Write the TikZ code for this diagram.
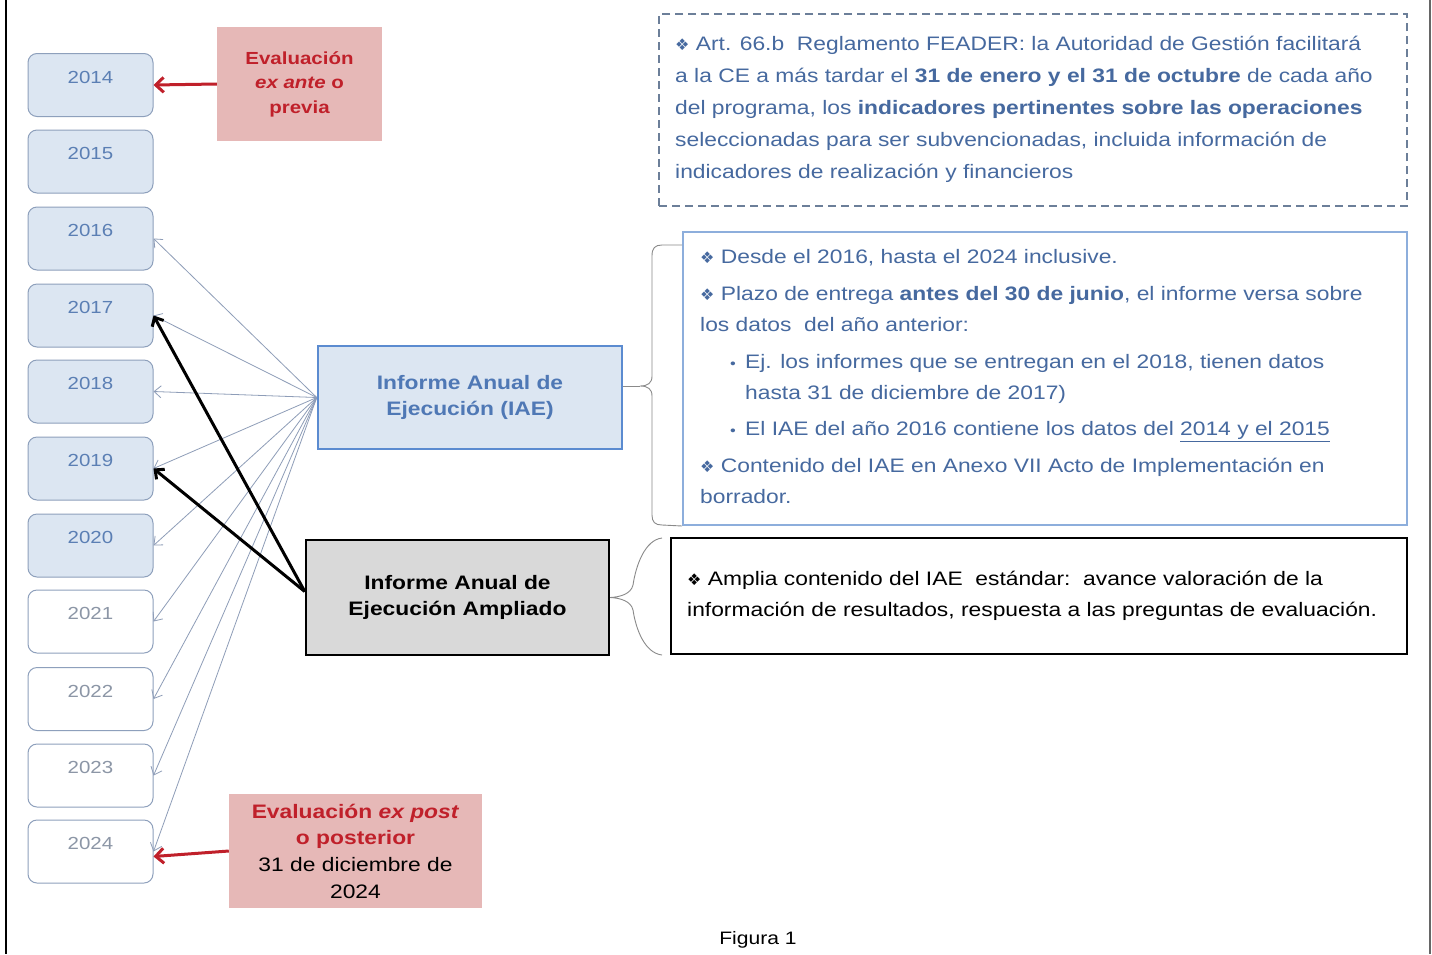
\documentclass[tikz,border=0pt]{standalone}
\usepackage{fontspec}
\setmainfont{Liberation Sans}[FakeStretch=1.17]
\newfontfamily\dingfont{DejaVu Sans}
\usetikzlibrary{arrows.meta}
\definecolor{yearfill}{HTML}{DCE6F2}
\definecolor{yearline}{HTML}{8EA0BC}
\definecolor{yeartxt}{HTML}{5B7FB4}
\definecolor{yeartxtb}{HTML}{8C96A6}
\definecolor{bluetxt}{HTML}{46699F}
\definecolor{iaeline}{HTML}{5B8BD0}
\definecolor{iaetxt}{HTML}{4F78B5}
\definecolor{boxline}{HTML}{8DAEDC}
\definecolor{dashline}{HTML}{6C7F99}
\definecolor{pinkfill}{HTML}{E6B8B7}
\definecolor{evred}{HTML}{C0202A}
\definecolor{thinarr}{HTML}{8E9DB8}
\definecolor{greyfill}{HTML}{D9D9D9}
\definecolor{bracecol}{HTML}{8A8A8A}
\newcommand{\dia}{{\dingfont\fontsize{16}{16}\selectfont ❖}}
\newcommand{\subbul}{\makebox[15pt][l]{\fontsize{14}{14}\selectfont •}}
\begin{document}
\begin{tikzpicture}[x=1pt,y=-1pt,
  yearbox/.style={rectangle,rounded corners=9pt,draw=yearline,line width=1pt,
    minimum width=125pt,minimum height=63pt,inner xsep=0pt,inner ysep=4pt,
    text height=25.5pt,text depth=29.5pt,font=\fontsize{17.5}{20}\selectfont},
  yearA/.style={yearbox,fill=yearfill,text=yeartxt},
  yearB/.style={yearbox,fill=white,text=yeartxtb},
  evalbox/.style={rectangle,fill=pinkfill,align=center,inner sep=0pt},
  thinarrow/.style={draw=thinarr,line width=0.8pt,-{Straight Barb[length=7pt,width=12pt]}},
  thickarrow/.style={draw=black,line width=3pt,-{Straight Barb[length=7pt,width=13pt]}},
  redarrow/.style={draw=evred,line width=3pt,-{Straight Barb[length=8pt,width=15pt]}},
  bodytext/.style={align=left,inner sep=0pt,anchor=north west},
  bracestyle/.style={draw=bracecol,line width=0.9pt}]
\useasboundingbox (0,0) rectangle (1432,954);
\fill[white] (0,0) rectangle (1432,954);
% frame
\draw[black,line width=2.5pt] (6,0) -- (6,954);
\draw[black!60,line width=2pt] (1430,0) -- (1430,954);
% years
\foreach \yr/\cy in {2014/85,2015/161.5,2016/238.5,2017/315.5,2018/391.5,2019/468.5,2020/545.5}
  \node[yearA] (y\yr) at (90.5,\cy) {\yr};
\foreach \yr/\cy in {2021/621.5,2022/699,2023/775.5,2024/851.5}
  \node[yearB] (y\yr) at (90.5,\cy) {\yr};
% evaluation boxes
\node[evalbox,minimum width=165pt,minimum height=114pt,text=evred,
  font=\bfseries\fontsize{17.5}{24.5}\selectfont] (exante) at (299.5,84)
  {Evaluación\\\textit{ex ante} o\\previa};
\node[evalbox,minimum width=253pt,minimum height=114pt,
  font=\fontsize{19.5}{26.7}\selectfont] (expost) at (355.5,851)
  {\textcolor{evred}{\bfseries Evaluación \textit{ex post}}\\
   \textcolor{evred}{\bfseries o posterior}\\
   31 de diciembre de\\2024};
% IAE boxes
\node[rectangle,draw=iaeline,line width=2.5pt,fill=yearfill,minimum width=304pt,
  minimum height=103pt,align=center,text=iaetxt,
  font=\bfseries\fontsize{19.5}{26}\selectfont] (iae) at (470,397.5)
  {Informe Anual de\\Ejecución (IAE)};
\node[rectangle,draw=black,line width=2.5pt,fill=greyfill,minimum width=303pt,
  minimum height=115pt,align=center,
  font=\bfseries\fontsize{19.5}{26}\selectfont] (amp) at (457.5,597.5)
  {Informe Anual de\\Ejecución Ampliado};
% right boxes
\node[rectangle,draw=dashline,dash pattern=on 8pt off 5pt,line width=1.5pt,minimum width=748pt,
  minimum height=192pt] (art) at (1033,110) {};
\node[rectangle,draw=boxline,line width=2pt,fill=white,minimum width=724pt,
  minimum height=293pt] (iaetext) at (1045,378.5) {};
\node[rectangle,draw=black,line width=2pt,fill=white,minimum width=736pt,
  minimum height=116pt] (amptext) at (1039,596) {};
\node[bodytext,text=bluetxt,font=\fontsize{19.5}{32}\selectfont] (arttxt) at (675,36)
  {\dia\ Art. 66.b\ \ Reglamento FEADER: la Autoridad de Gestión facilitará\\
   a la CE a más tardar el \textbf{31 de enero y el 31 de octubre} de cada año\\
   del programa, los \textbf{indicadores pertinentes sobre las operaciones}\\
   seleccionadas para ser subvencionadas, incluida información de\\
   indicadores de realización y financieros};
\node[bodytext,text=bluetxt,font=\fontsize{19.5}{31}\selectfont] (iaetxt) at (700,249)
  {\dia\ Desde el 2016, hasta el 2024 inclusive.\\[6pt]
   \dia\ Plazo de entrega \textbf{antes del 30 de junio}, el informe versa sobre\\
   los datos\ \ del año anterior:\\[6pt]
   \hspace*{30pt}\subbul Ej. los informes que se entregan en el 2018, tienen datos\\
   \hspace*{45pt}hasta 31 de diciembre de 2017)\\[5pt]
   \hspace*{30pt}\subbul El IAE del año 2016 contiene los datos del \underline{2014 y el 2015}\\[6pt]
   \dia\ Contenido del IAE en Anexo VII Acto de Implementación en\\
   borrador.};
\node[bodytext,text=black,font=\fontsize{19.5}{31}\selectfont] (amptxt) at (687,571)
  {\dia\ Amplia contenido del IAE\ \ estándar:\ \ avance valoración de la\\
   información de resultados, respuesta a las preguntas de evaluación.};
% braces
\coordinate (tip1) at (640,386);
\draw[bracestyle] ([yshift=11.5pt]iae.east) -- (tip1);
\draw[bracestyle] (iaetext.north west |- 0,245) -- (662,245) .. controls (655,245) and (652,248) .. (652,256)
  -- (652,376) .. controls (652,383) and (648,386) .. (tip1)
  .. controls (648,386) and (652,389) .. (652,396) -- (652,515)
  .. controls (652,522) and (655,525) .. (662,525) -- (iaetext.south west);
\draw[bracestyle] (662,538) .. controls (645,540) and (636,565) .. (633,585)
  .. controls (631,594) and (620,597) .. (amp.east)
  .. controls (620,598) and (631,601) .. (633,610)
  .. controls (636,630) and (645,653) .. (662,655);
% arrows
\foreach \yr in {2016,2017,2018,2019,2020,2021,2022,2023,2024}
  \draw[thinarrow] (iae.west) -- (y\yr.east);
\coordinate (ampsrc) at ([yshift=6pt]amp.west);
\draw[thickarrow] (ampsrc) -- (y2017.east);
\draw[thickarrow] (ampsrc) -- (y2019.east);
\draw[redarrow] (exante.west) -- (y2014.east);
\draw[redarrow] (expost.west) -- ([yshift=-5pt]y2024.east);
% caption
\node[font=\fontsize{18}{20}\selectfont] (cap) at (758,940) {Figura 1};
\end{tikzpicture}
\end{document}
